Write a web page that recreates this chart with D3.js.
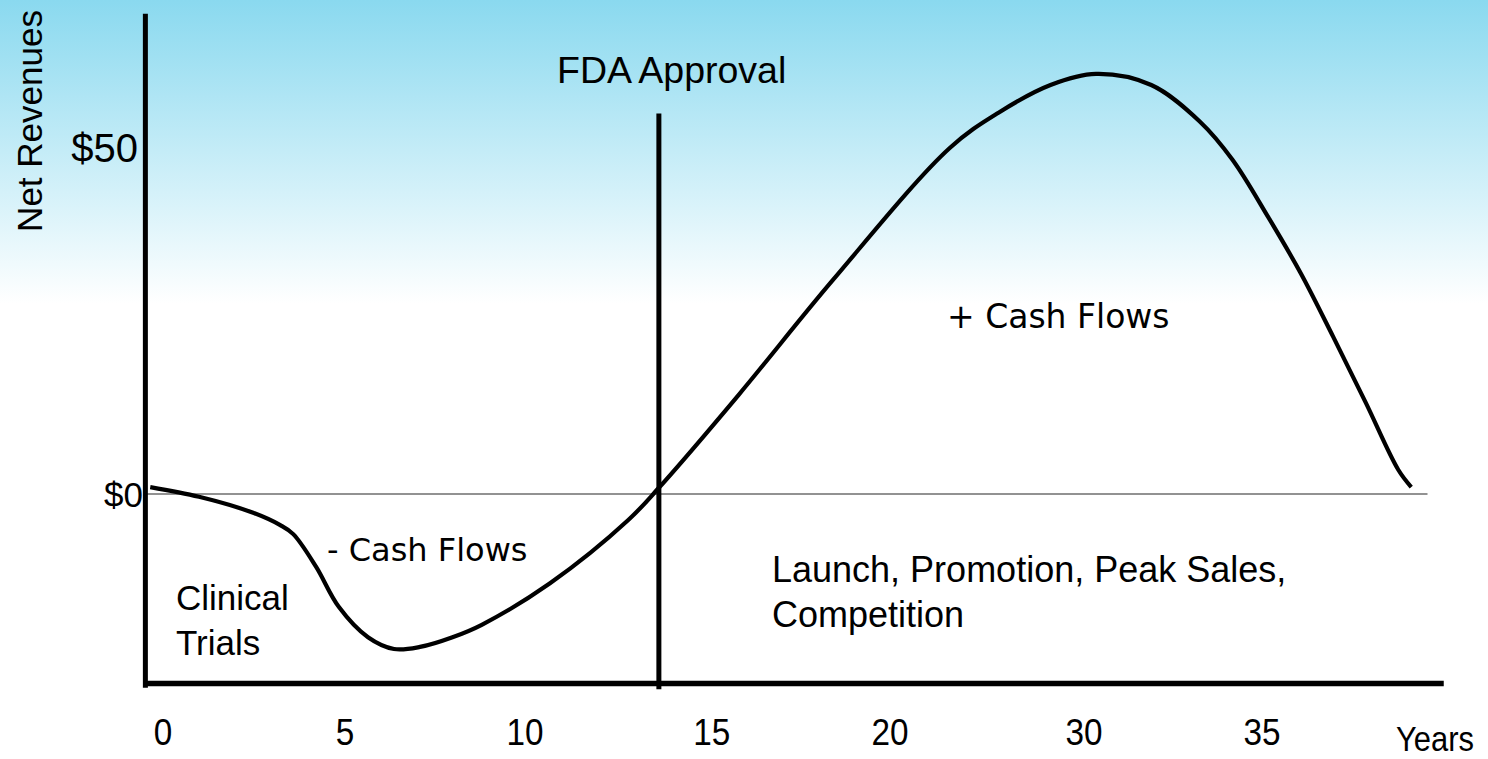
<!DOCTYPE html>
<html>
<head>
<meta charset="utf-8">
<script src="https://cdn.jsdelivr.net/npm/d3@7"></script>
<style>
  html, body { margin: 0; padding: 0; background: #fff; }
  svg { display: block; }
</style>
</head>
<body>
<svg id="chart" width="1488" height="759"></svg>
<script>
// ---------------- data (schematic drug-development cash flow curve) ----------------
// years along the (schematic) time axis
const curveYears = [0.1, 1.6, 3.2, 4.1, 4.5, 5.2, 5.9, 6.8, 7.6, 8.4, 9.4, 10.3, 12.4, 14.8, 15.75, 18.2, 21.1, 24.7, 26.2, 27.8, 29.2, 30.9, 32.4, 33.4, 34.5, 35.5, 36.5, 37.5, 38.5, 38.9];
// net revenues ($)
const curveValues = [1.0, -0.4, -2.6, -4.5, -5.8, -10.5, -16.3, -20.7, -22.4, -22.1, -20.7, -18.9, -12.9, -3.8, 0.9, 14.3, 30.9, 50.0, 55.1, 59.1, 60.7, 59.1, 53.8, 48.3, 40.0, 31.9, 22.7, 13.2, 3.5, 1.0];

// x tick labels and where they sit on the schematic axis
const xTickLabels = ["0", "5", "10", "15", "20", "30", "35"];
const xTickPos    = [0.49, 6.09, 11.63, 17.38, 22.86, 28.83, 34.31];

// y tick labels
const yTickLabels = ["$0", "$50"];
const yTickValues = [0, 50];
const yTickSizes  = [35, 40];

const fdaYear = 15.75;          // FDA approval
const fdaTopValue = 55;         // top of the FDA marker line

// ---------------- scales ----------------
const svg = d3.select("#chart");
const W = 1488, H = 759;

const x = d3.scaleLinear().domain([0, 40]).range([147, 1447]);
const y = d3.scaleLinear().domain([0, 50]).range([494, 148]);

// ---------------- background gradient ----------------
const defs = svg.append("defs");
const grad = defs.append("linearGradient")
  .attr("id", "bg").attr("x1", 0).attr("y1", 0).attr("x2", 0).attr("y2", 1);
grad.append("stop").attr("offset", "0%").attr("stop-color", "#8ad9ef");
grad.append("stop").attr("offset", "40%").attr("stop-color", "#ffffff");
grad.append("stop").attr("offset", "100%").attr("stop-color", "#ffffff");
svg.append("rect").attr("x", 0).attr("y", 0).attr("width", W).attr("height", H)
  .attr("fill", "url(#bg)");

const sans = "'Liberation Sans', Arial, sans-serif";
const humanist = "'DejaVu Sans', Verdana, sans-serif";

// ---------------- zero line ----------------
svg.append("line")
  .attr("x1", x(0)).attr("x2", x(39.4))
  .attr("y1", y(0)).attr("y2", y(0))
  .attr("stroke", "#6e6e6e").attr("stroke-width", 1.6);

// ---------------- axes (thick black) ----------------
svg.append("line")
  .attr("x1", x(-0.05)).attr("x2", x(-0.05))
  .attr("y1", y(69.4)).attr("y2", y(-28))
  .attr("stroke", "#000").attr("stroke-width", 5);

svg.append("line")
  .attr("x1", x(-0.12)).attr("x2", x(39.9))
  .attr("y1", y(-27.4)).attr("y2", y(-27.4))
  .attr("stroke", "#000").attr("stroke-width", 5.5);

// FDA approval line
svg.append("line")
  .attr("x1", x(fdaYear)).attr("x2", x(fdaYear))
  .attr("y1", y(fdaTopValue)).attr("y2", y(-28.2))
  .attr("stroke", "#000").attr("stroke-width", 5);

// ---------------- curve ----------------
const pts = curveYears.map((d, i) => [d, curveValues[i]]);
const line = d3.line()
  .x(d => x(d[0])).y(d => y(d[1]))
  .curve(d3.curveCatmullRom.alpha(0.5));
svg.append("path")
  .attr("d", line(pts))
  .attr("fill", "none").attr("stroke", "#000").attr("stroke-width", 4.2)
  .attr("stroke-linejoin", "round").attr("stroke-linecap", "butt");

// ---------------- tick labels ----------------
svg.selectAll("text.xt").data(xTickLabels).enter().append("text")
  .attr("class", "xt")
  .attr("transform", (d, i) => `translate(${x(xTickPos[i])},745) scale(0.9,1)`)
  .attr("text-anchor", "middle")
  .attr("font-family", sans).attr("font-size", 37)
  .text(d => d);

svg.append("text")
  .attr("transform", "translate(1396,751) scale(0.86,1)")
  .attr("font-family", sans).attr("font-size", 36)
  .text("Years");

svg.selectAll("text.yt").data(yTickLabels).enter().append("text")
  .attr("class", "yt")
  .attr("x", (d, i) => i === 0 ? 143 : 138)
  .attr("y", (d, i) => y(yTickValues[i]) + yTickSizes[i] * 0.36)
  .attr("text-anchor", "end")
  .attr("font-family", sans).attr("font-size", (d, i) => yTickSizes[i])
  .text(d => d);

svg.append("text")
  .attr("transform", "translate(42,121) rotate(-90)")
  .attr("text-anchor", "middle")
  .attr("font-family", sans).attr("font-size", 35)
  .text("Net Revenues");

// ---------------- annotations ----------------
svg.append("text").attr("x", 557).attr("y", 83)
  .attr("font-family", sans).attr("font-size", 37.5).text("FDA Approval");

svg.append("text").attr("x", 176).attr("y", 610)
  .attr("font-family", sans).attr("font-size", 35).text("Clinical");
svg.append("text").attr("x", 176).attr("y", 655)
  .attr("font-family", sans).attr("font-size", 35).text("Trials");

svg.append("text").attr("x", 327).attr("y", 561)
  .attr("font-family", humanist).attr("font-size", 32).text("- Cash Flows");

svg.append("text").attr("x", 947).attr("y", 328)
  .attr("font-family", humanist).attr("font-size", 33).text("+ Cash Flows");

svg.append("text").attr("x", 772).attr("y", 582)
  .attr("font-family", sans).attr("font-size", 36).text("Launch, Promotion, Peak Sales,");
svg.append("text").attr("x", 772).attr("y", 627)
  .attr("font-family", sans).attr("font-size", 36).text("Competition");
</script>
</body>
</html>
